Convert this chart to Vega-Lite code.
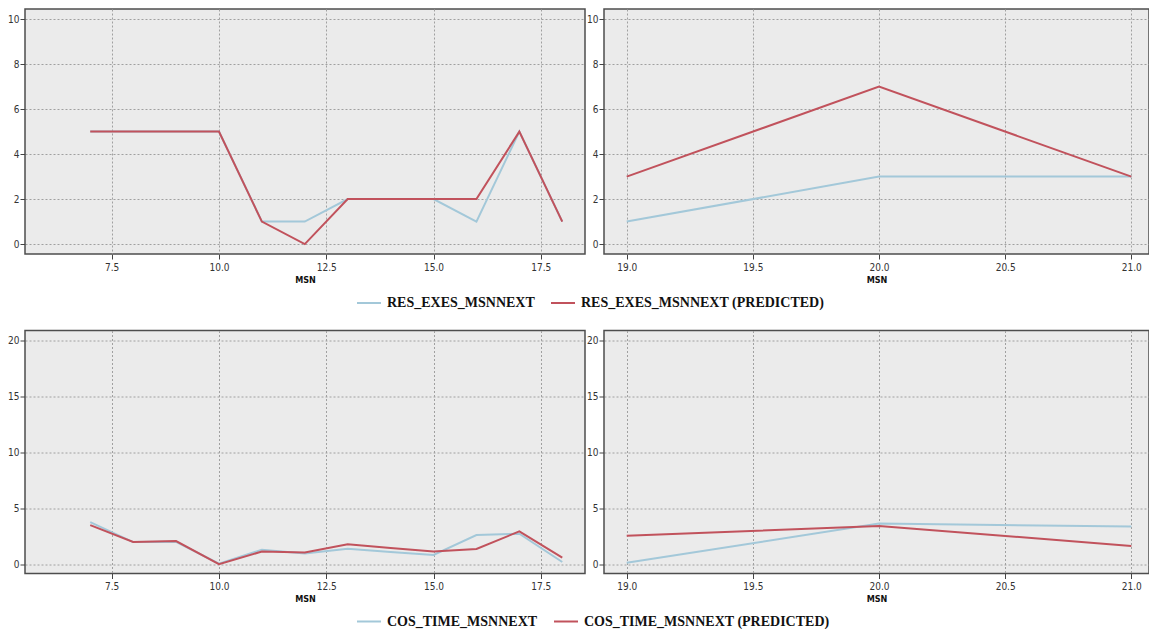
{
  "$schema": "https://vega.github.io/schema/vega-lite/v6.json",
  "autosize": {"type": "pad"},
  "padding": {"left": 6, "top": 8, "right": 0, "bottom": 0},
  "background": "white",
  "bounds": "full",
  "spacing": 19.5,
  "datasets": {
    "d": [
      {"grp": "RES", "part": "L", "MSN": 7, "series": "RES_EXES_MSNNEXT", "value": 5},
      {"grp": "RES", "part": "L", "MSN": 8, "series": "RES_EXES_MSNNEXT", "value": 5},
      {"grp": "RES", "part": "L", "MSN": 9, "series": "RES_EXES_MSNNEXT", "value": 5},
      {"grp": "RES", "part": "L", "MSN": 10, "series": "RES_EXES_MSNNEXT", "value": 5},
      {"grp": "RES", "part": "L", "MSN": 11, "series": "RES_EXES_MSNNEXT", "value": 1},
      {"grp": "RES", "part": "L", "MSN": 12, "series": "RES_EXES_MSNNEXT", "value": 1},
      {"grp": "RES", "part": "L", "MSN": 13, "series": "RES_EXES_MSNNEXT", "value": 2},
      {"grp": "RES", "part": "L", "MSN": 14, "series": "RES_EXES_MSNNEXT", "value": 2},
      {"grp": "RES", "part": "L", "MSN": 15, "series": "RES_EXES_MSNNEXT", "value": 2},
      {"grp": "RES", "part": "L", "MSN": 16, "series": "RES_EXES_MSNNEXT", "value": 1},
      {"grp": "RES", "part": "L", "MSN": 17, "series": "RES_EXES_MSNNEXT", "value": 5},
      {"grp": "RES", "part": "L", "MSN": 18, "series": "RES_EXES_MSNNEXT", "value": 1},
      {"grp": "RES", "part": "L", "MSN": 7, "series": "RES_EXES_MSNNEXT (PREDICTED)", "value": 5},
      {"grp": "RES", "part": "L", "MSN": 8, "series": "RES_EXES_MSNNEXT (PREDICTED)", "value": 5},
      {"grp": "RES", "part": "L", "MSN": 9, "series": "RES_EXES_MSNNEXT (PREDICTED)", "value": 5},
      {"grp": "RES", "part": "L", "MSN": 10, "series": "RES_EXES_MSNNEXT (PREDICTED)", "value": 5},
      {"grp": "RES", "part": "L", "MSN": 11, "series": "RES_EXES_MSNNEXT (PREDICTED)", "value": 1},
      {"grp": "RES", "part": "L", "MSN": 12, "series": "RES_EXES_MSNNEXT (PREDICTED)", "value": 0},
      {"grp": "RES", "part": "L", "MSN": 13, "series": "RES_EXES_MSNNEXT (PREDICTED)", "value": 2},
      {"grp": "RES", "part": "L", "MSN": 14, "series": "RES_EXES_MSNNEXT (PREDICTED)", "value": 2},
      {"grp": "RES", "part": "L", "MSN": 15, "series": "RES_EXES_MSNNEXT (PREDICTED)", "value": 2},
      {"grp": "RES", "part": "L", "MSN": 16, "series": "RES_EXES_MSNNEXT (PREDICTED)", "value": 2},
      {"grp": "RES", "part": "L", "MSN": 17, "series": "RES_EXES_MSNNEXT (PREDICTED)", "value": 5},
      {"grp": "RES", "part": "L", "MSN": 18, "series": "RES_EXES_MSNNEXT (PREDICTED)", "value": 1},
      {"grp": "RES", "part": "R", "MSN": 19, "series": "RES_EXES_MSNNEXT", "value": 1},
      {"grp": "RES", "part": "R", "MSN": 20, "series": "RES_EXES_MSNNEXT", "value": 3},
      {"grp": "RES", "part": "R", "MSN": 21, "series": "RES_EXES_MSNNEXT", "value": 3},
      {"grp": "RES", "part": "R", "MSN": 19, "series": "RES_EXES_MSNNEXT (PREDICTED)", "value": 3},
      {"grp": "RES", "part": "R", "MSN": 20, "series": "RES_EXES_MSNNEXT (PREDICTED)", "value": 7},
      {"grp": "RES", "part": "R", "MSN": 21, "series": "RES_EXES_MSNNEXT (PREDICTED)", "value": 3},
      {"grp": "COS", "part": "L", "MSN": 7, "series": "COS_TIME_MSNNEXT", "value": 3.75},
      {"grp": "COS", "part": "L", "MSN": 8, "series": "COS_TIME_MSNNEXT", "value": 1.98},
      {"grp": "COS", "part": "L", "MSN": 9, "series": "COS_TIME_MSNNEXT", "value": 2.0},
      {"grp": "COS", "part": "L", "MSN": 10, "series": "COS_TIME_MSNNEXT", "value": 0.05},
      {"grp": "COS", "part": "L", "MSN": 11, "series": "COS_TIME_MSNNEXT", "value": 1.3},
      {"grp": "COS", "part": "L", "MSN": 12, "series": "COS_TIME_MSNNEXT", "value": 0.95},
      {"grp": "COS", "part": "L", "MSN": 13, "series": "COS_TIME_MSNNEXT", "value": 1.39},
      {"grp": "COS", "part": "L", "MSN": 14, "series": "COS_TIME_MSNNEXT", "value": 1.1},
      {"grp": "COS", "part": "L", "MSN": 15, "series": "COS_TIME_MSNNEXT", "value": 0.83},
      {"grp": "COS", "part": "L", "MSN": 16, "series": "COS_TIME_MSNNEXT", "value": 2.6},
      {"grp": "COS", "part": "L", "MSN": 17, "series": "COS_TIME_MSNNEXT", "value": 2.72},
      {"grp": "COS", "part": "L", "MSN": 18, "series": "COS_TIME_MSNNEXT", "value": 0.2},
      {"grp": "COS", "part": "L", "MSN": 7, "series": "COS_TIME_MSNNEXT (PREDICTED)", "value": 3.49},
      {"grp": "COS", "part": "L", "MSN": 8, "series": "COS_TIME_MSNNEXT (PREDICTED)", "value": 1.98},
      {"grp": "COS", "part": "L", "MSN": 9, "series": "COS_TIME_MSNNEXT (PREDICTED)", "value": 2.07},
      {"grp": "COS", "part": "L", "MSN": 10, "series": "COS_TIME_MSNNEXT (PREDICTED)", "value": 0.0},
      {"grp": "COS", "part": "L", "MSN": 11, "series": "COS_TIME_MSNNEXT (PREDICTED)", "value": 1.13},
      {"grp": "COS", "part": "L", "MSN": 12, "series": "COS_TIME_MSNNEXT (PREDICTED)", "value": 1.05},
      {"grp": "COS", "part": "L", "MSN": 13, "series": "COS_TIME_MSNNEXT (PREDICTED)", "value": 1.78},
      {"grp": "COS", "part": "L", "MSN": 14, "series": "COS_TIME_MSNNEXT (PREDICTED)", "value": 1.45},
      {"grp": "COS", "part": "L", "MSN": 15, "series": "COS_TIME_MSNNEXT (PREDICTED)", "value": 1.13},
      {"grp": "COS", "part": "L", "MSN": 16, "series": "COS_TIME_MSNNEXT (PREDICTED)", "value": 1.36},
      {"grp": "COS", "part": "L", "MSN": 17, "series": "COS_TIME_MSNNEXT (PREDICTED)", "value": 2.93},
      {"grp": "COS", "part": "L", "MSN": 18, "series": "COS_TIME_MSNNEXT (PREDICTED)", "value": 0.59},
      {"grp": "COS", "part": "R", "MSN": 19, "series": "COS_TIME_MSNNEXT", "value": 0.12},
      {"grp": "COS", "part": "R", "MSN": 20, "series": "COS_TIME_MSNNEXT", "value": 3.63},
      {"grp": "COS", "part": "R", "MSN": 21, "series": "COS_TIME_MSNNEXT", "value": 3.36},
      {"grp": "COS", "part": "R", "MSN": 19, "series": "COS_TIME_MSNNEXT (PREDICTED)", "value": 2.53},
      {"grp": "COS", "part": "R", "MSN": 20, "series": "COS_TIME_MSNNEXT (PREDICTED)", "value": 3.42},
      {"grp": "COS", "part": "R", "MSN": 21, "series": "COS_TIME_MSNNEXT (PREDICTED)", "value": 1.63}
    ]
  },
  "config": {
    "view": {"fill": "#ebebeb", "stroke": "#4d4d4d", "strokeWidth": 1.5},
    "axis": {
      "labelFont": "Liberation Sans Narrow, DejaVu Sans Condensed, Liberation Sans",
      "labelFontSize": 10,
      "labelColor": "#333333",
      "tickColor": "#444444",
      "tickSize": 5,
      "domain": false,
      "gridColor": "#a0a0a0",
      "gridDash": [2, 2],
      "gridWidth": 1,
      "titleFont": "Liberation Sans Narrow, DejaVu Sans Condensed, Liberation Sans",
      "titleFontSize": 9,
      "titleFontWeight": "bold",
      "titleColor": "#111111"
    },
    "axisX": {"labelPadding": 3, "titlePadding": 3},
    "axisY": {"labelPadding": 1},
    "legend": {
      "labelFont": "Liberation Serif",
      "labelFontSize": 14,
      "labelFontWeight": "bold",
      "labelColor": "#111111",
      "labelLimit": 0,
      "symbolType": "stroke",
      "symbolSize": 576,
      "symbolStrokeWidth": 2.5,
      "columnPadding": 12,
      "labelOffset": 5
    },
    "line": {"strokeWidth": 2}
  },
  "resolve": {"scale": {"color": "independent"}, "legend": {"color": "independent"}},
  "vconcat": [
    {
      "bounds": "flush",
      "spacing": 19,
      "resolve": {"scale": {"x": "independent", "y": "independent"}},
      "hconcat": [
        {
          "width": 560, "height": 245,
          "data": {"name": "d"},
          "transform": [{"filter": "datum.grp === 'RES' && datum.part === 'L'"}],
          "mark": {"type": "line"},
          "encoding": {
            "x": {"field": "MSN", "type": "quantitative", "scale": {"domain": [5.48, 18.53], "nice": false, "zero": false},
                  "axis": {"values": [7.5, 10, 12.5, 15, 17.5], "format": ".1f", "title": "MSN"}},
            "y": {"field": "value", "type": "quantitative", "scale": {"domain": [-0.44, 10.45], "nice": false, "zero": false},
                  "axis": {"values": [0, 2, 4, 6, 8, 10], "title": null}},
            "color": {"field": "series", "type": "nominal",
                      "scale": {"domain": ["RES_EXES_MSNNEXT", "RES_EXES_MSNNEXT (PREDICTED)"], "range": ["#a3c8d9", "#c1525c"]},
                      "legend": {"orient": "none", "legendX": 331, "legendY": 281, "direction": "horizontal", "title": null}}
          }
        },
        {
          "width": 545, "height": 245,
          "data": {"name": "d"},
          "transform": [{"filter": "datum.grp === 'RES' && datum.part === 'R'"}],
          "mark": {"type": "line"},
          "encoding": {
            "x": {"field": "MSN", "type": "quantitative", "scale": {"domain": [18.91, 21.07], "nice": false, "zero": false},
                  "axis": {"values": [19, 19.5, 20, 20.5, 21], "format": ".1f", "title": "MSN"}},
            "y": {"field": "value", "type": "quantitative", "scale": {"domain": [-0.44, 10.45], "nice": false, "zero": false},
                  "axis": {"values": [0, 2, 4, 6, 8, 10], "title": null}},
            "color": {"field": "series", "type": "nominal",
                      "scale": {"domain": ["RES_EXES_MSNNEXT", "RES_EXES_MSNNEXT (PREDICTED)"], "range": ["#a3c8d9", "#c1525c"]},
                      "legend": {"orient": "none", "legendX": 331, "legendY": 281, "direction": "horizontal", "title": null}}
          }
        }
      ]
    },
    {
      "bounds": "flush",
      "spacing": 19,
      "resolve": {"scale": {"x": "independent", "y": "independent"}},
      "hconcat": [
        {
          "width": 560, "height": 243,
          "data": {"name": "d"},
          "transform": [{"filter": "datum.grp === 'COS' && datum.part === 'L'"}],
          "mark": {"type": "line"},
          "encoding": {
            "x": {"field": "MSN", "type": "quantitative", "scale": {"domain": [5.48, 18.53], "nice": false, "zero": false},
                  "axis": {"values": [7.5, 10, 12.5, 15, 17.5], "format": ".1f", "title": "MSN"}},
            "y": {"field": "value", "type": "quantitative", "scale": {"domain": [-0.83, 20.87], "nice": false, "zero": false},
                  "axis": {"values": [0, 5, 10, 15, 20], "title": null}},
            "color": {"field": "series", "type": "nominal",
                      "scale": {"domain": ["COS_TIME_MSNNEXT", "COS_TIME_MSNNEXT (PREDICTED)"], "range": ["#a3c8d9", "#c1525c"]},
                      "legend": {"orient": "none", "legendX": 331, "legendY": 278, "direction": "horizontal", "title": null}}
          }
        },
        {
          "width": 545, "height": 243,
          "data": {"name": "d"},
          "transform": [{"filter": "datum.grp === 'COS' && datum.part === 'R'"}],
          "mark": {"type": "line"},
          "encoding": {
            "x": {"field": "MSN", "type": "quantitative", "scale": {"domain": [18.91, 21.07], "nice": false, "zero": false},
                  "axis": {"values": [19, 19.5, 20, 20.5, 21], "format": ".1f", "title": "MSN"}},
            "y": {"field": "value", "type": "quantitative", "scale": {"domain": [-0.83, 20.87], "nice": false, "zero": false},
                  "axis": {"values": [0, 5, 10, 15, 20], "title": null}},
            "color": {"field": "series", "type": "nominal",
                      "scale": {"domain": ["COS_TIME_MSNNEXT", "COS_TIME_MSNNEXT (PREDICTED)"], "range": ["#a3c8d9", "#c1525c"]},
                      "legend": {"orient": "none", "legendX": 331, "legendY": 278, "direction": "horizontal", "title": null}}
          }
        }
      ]
    }
  ]
}
